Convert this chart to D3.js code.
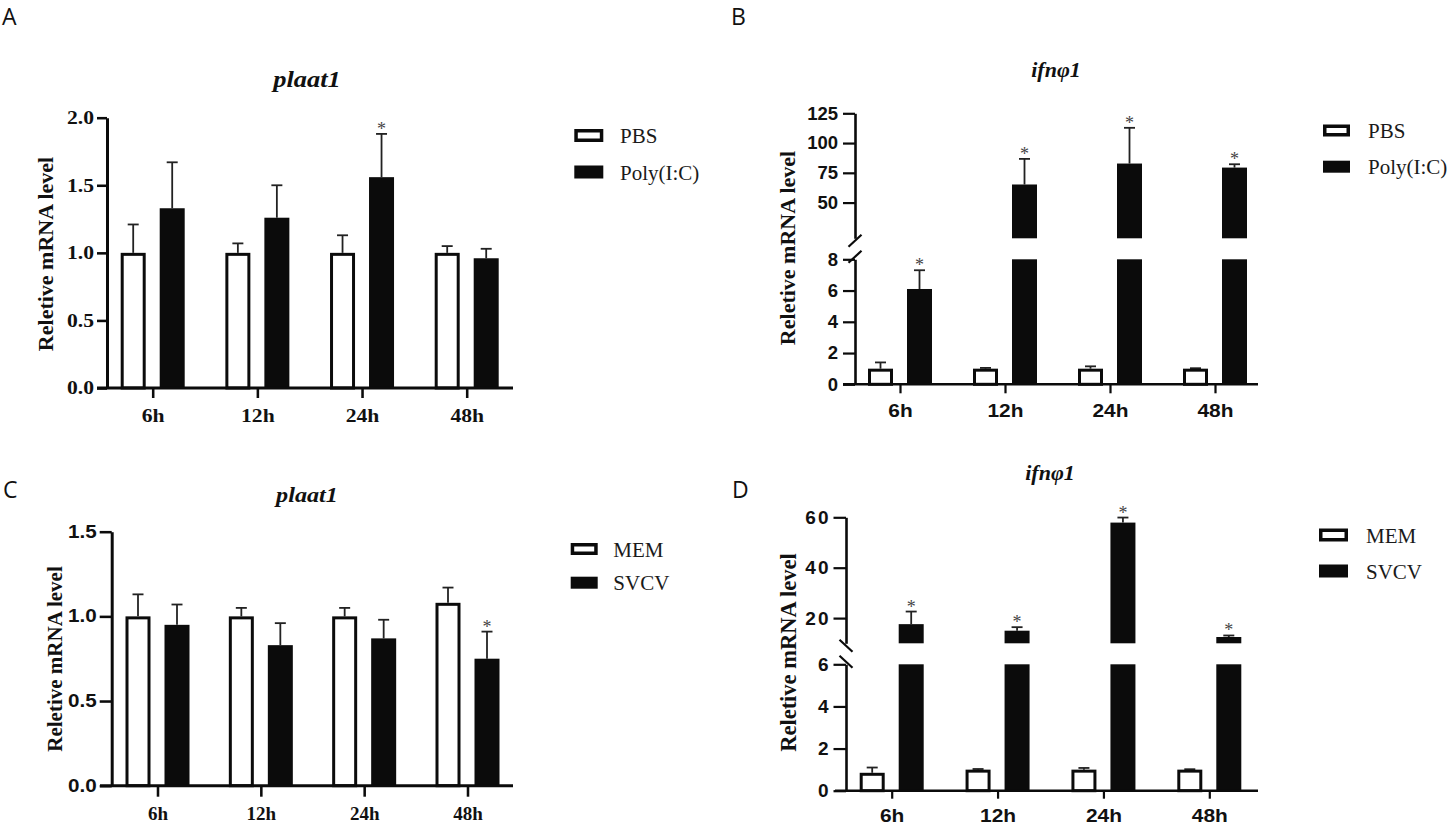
<!DOCTYPE html>
<html><head><meta charset="utf-8">
<script src="https://cdn.jsdelivr.net/npm/d3@7"></script>
<style>body{margin:0;background:#fff;} svg{display:block}</style>
</head><body><svg id="c" width="1453" height="826"></svg>
<script>
// ---------------- DATA ----------------
const times = ["6h","12h","24h","48h"];
const yLabel = "Reletive mRNA level";

// Panel A: plaat1, PBS vs Poly(I:C)
const aTitle = "plaat1";
const aSeries = ["PBS","Poly(I:C)"];
const aCtrlMean = [1.00,1.00,1.00,1.00];
const aCtrlErr  = [0.21,0.07,0.13,0.05];
const aTrtMean  = [1.33,1.26,1.56,0.96];
const aTrtErr   = [0.34,0.24,0.32,0.07];
const aStars    = [false,false,true,false];
const aDomain   = [0,2];
const aTicks    = [0,0.5,1.0,1.5,2.0];

// Panel B: ifnφ1, PBS vs Poly(I:C) (broken axis)
const bTitle = "ifnφ1";
const bSeries = ["PBS","Poly(I:C)"];
const bCtrlMean = [1.0,1.0,1.0,1.0];
const bCtrlErr  = [0.40,0.05,0.15,0.03];
const bTrtMean  = [6.1,65.2,82.8,79.4];
const bTrtErr   = [1.2,21.5,30.0,2.8];
const bStars    = [true,true,true,true];
const bDomainLow = [0,8],   bTicksLow  = [0,2,4,6,8];
const bDomainHigh = [20,125], bTicksHigh = [50,75,100,125];

// Panel C: plaat1, MEM vs SVCV
const cTitle = "plaat1";
const cSeries = ["MEM","SVCV"];
const cCtrlMean = [1.00,1.00,1.00,1.08];
const cCtrlErr  = [0.13,0.05,0.05,0.09];
const cTrtMean  = [0.95,0.83,0.87,0.75];
const cTrtErr   = [0.12,0.13,0.11,0.16];
const cStars    = [false,false,false,true];
const cDomain   = [0,1.5];
const cTicks    = [0,0.5,1.0,1.5];

// Panel D: ifnφ1, MEM vs SVCV (broken axis)
const dTitle = "ifnφ1";
const dSeries = ["MEM","SVCV"];
const dCtrlMean = [0.85,1.0,1.0,1.0];
const dCtrlErr  = [0.25,0.03,0.08,0.02];
const dTrtMean  = [17.6,15.0,57.9,12.5];
const dTrtErr   = [5.0,1.4,2.0,0.6];
const dStars    = [true,true,true,true];
const dDomainLow = [0,6],   dTicksLow  = [0,2,4,6];
const dDomainHigh = [10,60], dTicksHigh = [20,40,60];

// ---------------- DRAW ----------------
const svg = d3.select("#c");
const INK = "#0b0b0b";
const SERIF = "'Liberation Serif','Times New Roman',serif";
const SANS = "'Liberation Sans',Arial,sans-serif";

function stretch(sel, sx) {
  sel.each(function(){
    const t = d3.select(this);
    const xx = +t.attr("x") || 0;
    t.attr("x", xx/sx).attr("transform", `scale(${sx},1)`);
  });
}

function panel(c) {
  const g = svg.append("g");
  const x = d3.scalePoint().domain(times).range(c.xRange);
  const segs = c.segs.map(s => ({domain:s.domain, ticks:s.ticks,
      sc: d3.scaleLinear().domain(s.domain).range(s.range)}));
  const yv = v => (segs.find(s => v <= s.domain[1]) || segs[segs.length-1]).sc(v);
  const y0 = segs[0].sc(0);

  const groups = [
    {mean:c.ctrlMean, err:c.ctrlErr, filled:false, off:-c.off, stars:null},
    {mean:c.trtMean, err:c.trtErr, filled:true, off:c.off, stars:c.stars}
  ];
  groups.forEach(gr => {
    gr.mean.forEach((v,i) => {
      const cx = x(times[i]) + gr.off;
      const bw = c.barW;
      const yt = yv(v), ye = yv(v + gr.err[i]);
      g.append("line").attr("x1",cx).attr("x2",cx).attr("y1",yt).attr("y2",ye)
        .attr("stroke","#222").attr("stroke-width",1.8);
      g.append("line").attr("x1",cx-c.capW/2).attr("x2",cx+c.capW/2).attr("y1",ye).attr("y2",ye)
        .attr("stroke","#222").attr("stroke-width",1.8);
      segs.forEach(s => {
        if (v <= s.domain[0]) return;
        const top = s.sc(Math.min(v, s.domain[1])), bot = s.sc(s.domain[0]);
        if (gr.filled) {
          g.append("rect").attr("x",cx-bw/2).attr("y",top).attr("width",bw)
            .attr("height",bot-top).attr("fill",INK);
        } else {
          g.append("rect").attr("x",cx-bw/2+1.5).attr("y",top+1.5).attr("width",bw-3)
            .attr("height",Math.max(0,bot-top-1.5)).attr("fill","#fff")
            .attr("stroke",INK).attr("stroke-width",3);
        }
      });
      if (gr.stars && gr.stars[i]) {
        g.append("text").attr("x",cx).attr("y",ye+1).attr("text-anchor","middle")
          .attr("font-family",SERIF).attr("font-size",18).attr("fill","#444").text("*");
      }
    });
  });

  segs.forEach(s => {
    const ax = g.append("g").attr("transform",`translate(${c.yAxisX},0)`)
      .call(d3.axisLeft(s.sc).tickValues(s.ticks).tickSize(c.yTickLen)
        .tickSizeOuter(0).tickPadding(c.yTickPad).tickFormat(d3.format(c.fmt)));
    ax.select(".domain").attr("stroke",INK).attr("stroke-width",c.axisW);
    ax.selectAll(".tick line").attr("stroke",INK).attr("stroke-width",c.axisW*0.85);
    ax.selectAll("text").attr("font-family",c.yTickFont).attr("font-weight","bold")
      .attr("font-size",c.yTickSize).attr("fill","#111")
      .attr("letter-spacing", c.yTickLS || 0);
    stretch(ax.selectAll("text"), c.yTickSx);
  });
  if (segs.length > 1 && c.brk) {
    const lowTop = segs[0].sc(segs[0].domain[1]);
    const highBot = segs[1].sc(segs[1].domain[0]);
    [highBot + 2.5, lowTop - 2.5].forEach(cy => {
      g.append("line").attr("x1",c.yAxisX-6.5).attr("x2",c.yAxisX+6.5)
        .attr("y1",cy + c.brk*6).attr("y2",cy - c.brk*6)
        .attr("stroke",INK).attr("stroke-width",c.axisW*0.85);
    });
  }

  g.append("line").attr("x1",c.xLine[0]).attr("x2",c.xLine[1]).attr("y1",y0).attr("y2",y0)
    .attr("stroke",INK).attr("stroke-width",c.axisW);
  const xa = g.append("g").attr("transform",`translate(0,${y0})`)
    .call(d3.axisBottom(x).tickSize(c.xTickLen).tickPadding(c.xTickPad));
  xa.select(".domain").remove();
  xa.selectAll(".tick line").attr("stroke",INK).attr("stroke-width",c.axisW*0.85);
  xa.selectAll("text").attr("font-family",c.xTickFont).attr("font-weight","bold")
    .attr("font-size",c.xTickSize).attr("fill","#111");
  stretch(xa.selectAll("text"), c.xTickSx);

  g.append("text").attr("transform",`translate(${c.titlePos[0]},${c.titlePos[1]}) scale(${c.titleSx},1)`)
    .attr("text-anchor","middle").attr("font-family",SERIF).attr("font-weight","bold")
    .attr("font-style","italic").attr("font-size",c.titleSize).attr("fill","#111").text(c.title);

  g.append("text").attr("transform",`translate(${c.yLabelPos[0]},${c.yLabelPos[1]}) rotate(-90)`)
    .attr("text-anchor","middle").attr("font-family",SERIF).attr("font-weight","bold")
    .attr("font-size",c.yLabelSize).attr("fill","#111").text(yLabel);

  g.append("text").attr("x",c.letterPos[0]).attr("y",c.letterPos[1])
    .attr("font-family","'Open Sans',sans-serif").attr("font-size",23).attr("fill","#111").text(c.letter);

  c.series.forEach((name,i) => {
    const cy = c.legend.cy[i];
    const L = c.legend;
    if (i === 0) {
      g.append("rect").attr("x",L.x+1.75).attr("y",cy-L.h/2+1.75).attr("width",L.w-3.5)
        .attr("height",L.h-3.5).attr("fill","#fff").attr("stroke",INK).attr("stroke-width",3.5);
    } else {
      g.append("rect").attr("x",L.x).attr("y",cy-L.h/2).attr("width",L.w)
        .attr("height",L.h).attr("fill",INK);
    }
    g.append("text").attr("x",L.tx).attr("y",cy+7.5).attr("font-family",SERIF)
      .attr("font-size",21).attr("fill","#1a1a1a").text(name);
  });
}

panel({
  letter:"A", letterPos:[2,25], title:aTitle, titlePos:[307,87], titleSx:1.15, titleSize:23,
  yLabelPos:[53,254], yLabelSize:22, series:aSeries,
  ctrlMean:aCtrlMean, ctrlErr:aCtrlErr, trtMean:aTrtMean, trtErr:aTrtErr, stars:aStars,
  segs:[{domain:aDomain, ticks:aTicks, range:[388,117.7]}],
  yAxisX:107, xRange:[152.7,466.7], xLine:[97,513], off:19.5, barW:25, capW:11,
  axisW:3, fmt:".1f", yTickLen:10, yTickPad:3, yTickFont:SERIF, yTickSize:18, yTickSx:1.2,
  xTickLen:10, xTickPad:11, xTickFont:SERIF, xTickSize:18, xTickSx:1.2,
  legend:{x:574.3, w:29, h:13, cy:[135.5,172], tx:620}
});
panel({
  letter:"B", letterPos:[731,25], title:bTitle, titlePos:[1056,77], titleSx:1.05, titleSize:21,
  yLabelPos:[795,248], yLabelSize:22, series:bSeries,
  ctrlMean:bCtrlMean, ctrlErr:bCtrlErr, trtMean:bTrtMean, trtErr:bTrtErr, stars:bStars,
  segs:[{domain:bDomainLow, ticks:bTicksLow, range:[384.3,259.3]},
        {domain:bDomainHigh, ticks:bTicksHigh, range:[238.3,113.3]}],
  yAxisX:855, xRange:[900,1215], xLine:[843,1258], off:19.5, barW:25, capW:11, brk:1,
  axisW:2.6, fmt:"d", yTickLen:12, yTickPad:5, yTickFont:SANS, yTickSize:18.5, yTickSx:1,
  xTickLen:9, xTickPad:10, xTickFont:SANS, xTickSize:19, xTickSx:1.1,
  legend:{x:1323, w:27, h:12, cy:[130.5,166.7], tx:1368}
});
panel({
  letter:"C", letterPos:[3,498], title:cTitle, titlePos:[307,501.7], titleSx:1.1, titleSize:22,
  yLabelPos:[61.7,659], yLabelSize:21, series:cSeries,
  ctrlMean:cCtrlMean, ctrlErr:cCtrlErr, trtMean:cTrtMean, trtErr:cTrtErr, stars:cStars,
  segs:[{domain:cDomain, ticks:cTicks, range:[785.7,531.7]}],
  yAxisX:111.7, xRange:[157.5,467.5], xLine:[100,513], off:19.5, barW:25, capW:11,
  axisW:3, fmt:".1f", yTickLen:12, yTickPad:3, yTickFont:SANS, yTickSize:17.5, yTickSx:1.18,
  xTickLen:11, xTickPad:10, xTickFont:SERIF, xTickSize:19, xTickSx:1,
  legend:{x:570.7, w:27, h:12, cy:[549,582.7], tx:613.3}
});
panel({
  letter:"D", letterPos:[732,498], title:dTitle, titlePos:[1050,480], titleSx:1.05, titleSize:21,
  yLabelPos:[796,652.5], yLabelSize:22.5, series:dSeries,
  ctrlMean:dCtrlMean, ctrlErr:dCtrlErr, trtMean:dTrtMean, trtErr:dTrtErr, stars:dStars,
  segs:[{domain:dDomainLow, ticks:dTicksLow, range:[790.7,664.3]},
        {domain:dDomainHigh, ticks:dTicksHigh, range:[643.3,517.3]}],
  yAxisX:846, xRange:[891.7,1209.3], xLine:[835,1258], off:19.5, barW:25, capW:11, brk:-1,
  axisW:2.6, fmt:"d", yTickLen:12.5, yTickPad:3, yTickFont:SANS, yTickSize:19, yTickSx:1, yTickLS:2,
  xTickLen:8, xTickPad:10, xTickFont:SANS, xTickSize:19, xTickSx:1.1,
  legend:{x:1319, w:29, h:13, cy:[535,571], tx:1366}
});
</script>
</body></html>
